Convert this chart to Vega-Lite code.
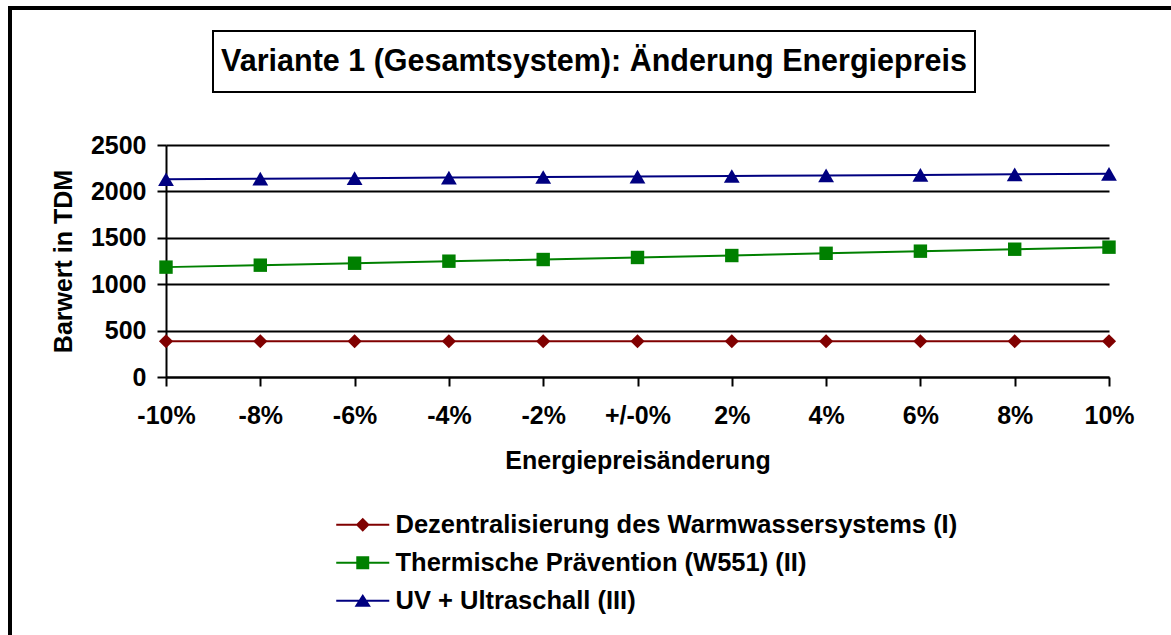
{
  "$schema": "https://vega.github.io/schema/vega-lite/v6.json",
  "background": "white",
  "padding": {"left": 8, "top": 6, "right": 0, "bottom": 0},
  "config": {
    "font": "Liberation Sans",
    "axis": {
      "labelFont": "Liberation Sans", "labelFontWeight": "bold", "labelFontSize": 25, "labelColor": "black",
      "titleFont": "Liberation Sans", "titleFontWeight": "bold", "titleFontSize": 25, "titleColor": "black",
      "domainColor": "black", "domainWidth": 2, "tickColor": "black", "tickWidth": 2, "tickSize": 9,
      "labelOverlap": false
    },
    "legend": {
      "orient": "none", "legendX": 340, "legendY": 504, "title": null, "padding": 0,
      "symbolSize": 576, "symbolStrokeWidth": 0, "labelFont": "Liberation Sans", "labelFontSize": 25.5, "labelFontWeight": "bold", "labelColor": "black",
      "labelOffset": 20, "rowPadding": 11, "labelLimit": 0
    }
  },
  "datasets": {
    "title": [{"t": "Variante 1 (Gesamtsystem): Änderung Energiepreis"}],
    "main": [
      {"x": "-10%", "s": "Dezentralisierung des Warmwassersystems (I)", "v": 385},
      {"x": "-8%", "s": "Dezentralisierung des Warmwassersystems (I)", "v": 385},
      {"x": "-6%", "s": "Dezentralisierung des Warmwassersystems (I)", "v": 385},
      {"x": "-4%", "s": "Dezentralisierung des Warmwassersystems (I)", "v": 385},
      {"x": "-2%", "s": "Dezentralisierung des Warmwassersystems (I)", "v": 385},
      {"x": "+/-0%", "s": "Dezentralisierung des Warmwassersystems (I)", "v": 385},
      {"x": "2%", "s": "Dezentralisierung des Warmwassersystems (I)", "v": 385},
      {"x": "4%", "s": "Dezentralisierung des Warmwassersystems (I)", "v": 385},
      {"x": "6%", "s": "Dezentralisierung des Warmwassersystems (I)", "v": 385},
      {"x": "8%", "s": "Dezentralisierung des Warmwassersystems (I)", "v": 385},
      {"x": "10%", "s": "Dezentralisierung des Warmwassersystems (I)", "v": 385},
      {"x": "-10%", "s": "Thermische Prävention (W551) (II)", "v": 1184},
      {"x": "-8%", "s": "Thermische Prävention (W551) (II)", "v": 1205},
      {"x": "-6%", "s": "Thermische Prävention (W551) (II)", "v": 1226},
      {"x": "-4%", "s": "Thermische Prävention (W551) (II)", "v": 1248},
      {"x": "-2%", "s": "Thermische Prävention (W551) (II)", "v": 1266},
      {"x": "+/-0%", "s": "Thermische Prävention (W551) (II)", "v": 1288},
      {"x": "2%", "s": "Thermische Prävention (W551) (II)", "v": 1309},
      {"x": "4%", "s": "Thermische Prävention (W551) (II)", "v": 1333},
      {"x": "6%", "s": "Thermische Prävention (W551) (II)", "v": 1356},
      {"x": "8%", "s": "Thermische Prävention (W551) (II)", "v": 1377},
      {"x": "10%", "s": "Thermische Prävention (W551) (II)", "v": 1399},
      {"x": "-10%", "s": "UV + Ultraschall (III)", "v": 2131},
      {"x": "-8%", "s": "UV + Ultraschall (III)", "v": 2137},
      {"x": "-6%", "s": "UV + Ultraschall (III)", "v": 2143},
      {"x": "-4%", "s": "UV + Ultraschall (III)", "v": 2149},
      {"x": "-2%", "s": "UV + Ultraschall (III)", "v": 2155},
      {"x": "+/-0%", "s": "UV + Ultraschall (III)", "v": 2160},
      {"x": "2%", "s": "UV + Ultraschall (III)", "v": 2166},
      {"x": "4%", "s": "UV + Ultraschall (III)", "v": 2172},
      {"x": "6%", "s": "UV + Ultraschall (III)", "v": 2178},
      {"x": "8%", "s": "UV + Ultraschall (III)", "v": 2184},
      {"x": "10%", "s": "UV + Ultraschall (III)", "v": 2189}
    ]
  },
  "bounds": "flush",
  "center": false,
  "spacing": 0,
  "vconcat": [
    {
      "spacing": 0,
      "bounds": "flush",
      "hconcat": [
        {
          "data": {"values": []},
          "width": 1200,
          "height": 660,
          "view": {"stroke": "black", "strokeWidth": 4},
          "mark": {"type": "text"}
        }
      ]
    },
    {
      "data": {"values": []},
      "width": 1,
      "height": 23,
      "view": {"stroke": null},
      "mark": {"type": "text"}
    },
    {
      "spacing": 0,
      "bounds": "flush",
      "hconcat": [
        {
          "data": {"values": []},
          "width": 203,
          "height": 61,
          "view": {"stroke": null},
          "mark": {"type": "text"}
        },
        {
          "data": {"name": "title"},
          "width": 762,
          "height": 61,
          "view": {"stroke": "black", "strokeWidth": 2},
          "mark": {"type": "text", "font": "Liberation Sans", "fontSize": 30.5, "fontWeight": "bold", "color": "black", "align": "center", "baseline": "middle"},
          "encoding": {"text": {"field": "t"}}
        }
      ]
    },
    {
      "data": {"values": []},
      "width": 1,
      "height": 114,
      "view": {"stroke": null},
      "mark": {"type": "text"}
    },
    {
      "spacing": 0,
      "bounds": "flush",
      "hconcat": [
        {
          "data": {"values": []},
          "width": 156,
          "height": 1,
          "view": {"stroke": null},
          "mark": {"type": "text"}
        },
        {
          "data": {"name": "main"},
          "width": 943,
          "height": 232,
          "view": {"stroke": null},
          "encoding": {
            "x": {
              "field": "x", "type": "ordinal", "sort": null,
              "scale": {"type": "point", "padding": 0},
              "axis": {"title": "Energiepreisänderung", "labelAngle": 0, "labelPadding": 17, "titlePadding": 20, "grid": false}
            },
            "y": {
              "field": "v", "type": "quantitative",
              "scale": {"domain": [0, 2500], "nice": false},
              "axis": {"title": "Barwert in TDM", "values": [0, 500, 1000, 1500, 2000, 2500], "format": "d", "grid": true, "gridColor": "black", "gridWidth": 2, "gridOpacity": 1, "labelPadding": 11, "titlePadding": 14}
            },
            "color": {
              "field": "s", "type": "nominal",
              "scale": {"domain": ["Dezentralisierung des Warmwassersystems (I)", "Thermische Prävention (W551) (II)", "UV + Ultraschall (III)"], "range": ["#800000", "#008000", "#000080"]}
            }
          },
          "layer": [
            {"mark": {"type": "line", "strokeWidth": 2}},
            {
              "transform": [{"filter": {"field": "s", "equal": "Dezentralisierung des Warmwassersystems (I)"}}],
              "mark": {"type": "point", "filled": true, "opacity": 1, "shape": "diamond", "size": 200}
            },
            {
              "transform": [{"filter": {"field": "s", "equal": "Thermische Prävention (W551) (II)"}}],
              "mark": {"type": "point", "filled": true, "opacity": 1, "shape": "square", "size": 180}
            },
            {
              "transform": [{"filter": {"field": "s", "equal": "UV + Ultraschall (III)"}}],
              "mark": {"type": "point", "filled": true, "opacity": 1, "shape": "triangle-up", "size": 250}
            },
            {
              "transform": [{"filter": "false"}],
              "mark": {"type": "point", "filled": true, "opacity": 1},
              "encoding": {
                "shape": {
                  "field": "s", "type": "nominal",
                  "scale": {
                    "domain": ["Dezentralisierung des Warmwassersystems (I)", "Thermische Prävention (W551) (II)", "UV + Ultraschall (III)"],
                    "range": [
                      "M-2.21,-0.085H2.21V0.085H-2.21ZM0,-0.58L0.58,0L0,0.58L-0.58,0Z",
                      "M-2.21,-0.085H2.21V0.085H-2.21ZM-0.54,-0.54H0.54V0.54H-0.54Z",
                      "M-2.21,-0.085H2.21V0.085H-2.21ZM0,-0.56L0.68,0.5H-0.68Z"
                    ]
                  }
                }
              }
            }
          ]
        }
      ]
    }
  ]
}
